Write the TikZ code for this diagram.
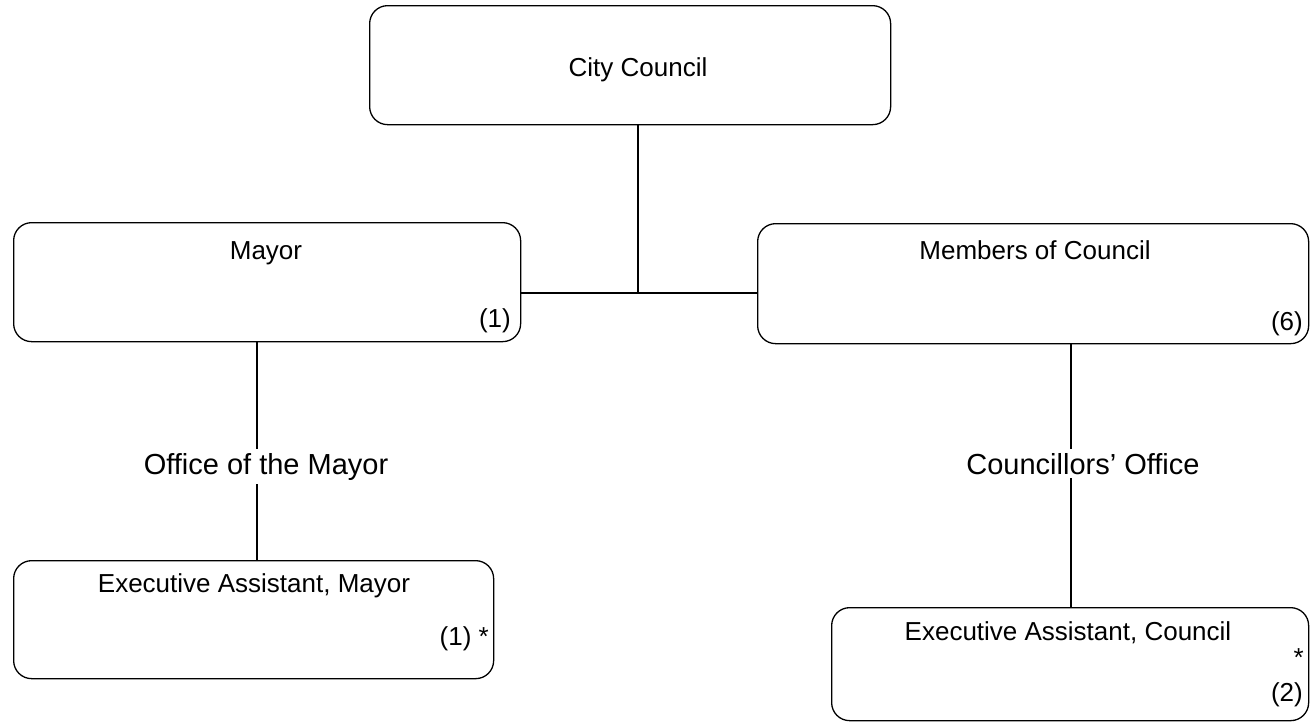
\documentclass[tikz,border=0pt]{standalone}
\usepackage{fontspec}
\setmainfont{Liberation Sans}
\begin{document}
\begin{tikzpicture}[x=1pt,y=-1pt,
  box/.style={draw, rounded corners=18pt, line width=1.3pt, inner sep=0pt, anchor=north west},
  title/.style={font=\fontsize{26}{30}\selectfont, anchor=base, inner sep=0pt},
  count/.style={font=\fontsize{26}{30}\selectfont, anchor=base east, inner sep=0pt},
  lbl/.style={font=\fontsize{29}{33}\selectfont, anchor=base, inner sep=4pt},
  conn/.style={line width=1.3pt}]
\useasboundingbox (0,0) rectangle (1310,723);
% boxes
\node[box, minimum width=521pt, minimum height=119pt] (cc) at (369,5) {};
\node[box, minimum width=507pt, minimum height=119pt] (mayor) at (13,222) {};
\node[box, minimum width=551pt, minimum height=120pt] (mem) at (757,223) {};
\node[box, minimum width=480pt, minimum height=118pt] (ema) at (13,560) {};
\node[box, minimum width=477pt, minimum height=113pt] (eac) at (831,607) {};
% texts in boxes
\node[title] (cct) at (638,76) {City Council};
\node[title] (mayt) at (266,259) {Mayor};
\node[count] (mayc) at (511,327) {(1)};
\node[title] (memt) at (1035,259) {Members of Council};
\node[count] (memc) at (1303,330) {(6)};
\node[title] (emat) at (254,592) {Executive Assistant, Mayor};
\node[count] (emac) at (489,645) {(1) *};
\node[title] (eact) at (1068,640) {Executive Assistant, Council};
\node[count] (eacs) at (1304,666) {*};
\node[count] (eacc) at (1303,701) {(2)};
% labels
\node[lbl] (om) at (266,474) {Office of the Mayor};
\node[lbl] (co) at (1083,474) {Councillors' Office};
% connectors
\coordinate (j) at (638,293);
\coordinate (ml) at (257,0);
\coordinate (cl) at (1071,0);
\draw[conn] (cc.south -| j) -- (j);
\draw[conn] (mayor.east |- j) -- (mem.west |- j);
\draw[conn] (mayor.south -| ml) -- (om.north -| ml);
\draw[conn] (om.south -| ml) -- (ema.north -| ml);
\draw[conn] (mem.south -| cl) -- (co.north -| cl);
\draw[conn] (co.south -| cl) -- (eac.north -| cl);
\end{tikzpicture}
\end{document}
